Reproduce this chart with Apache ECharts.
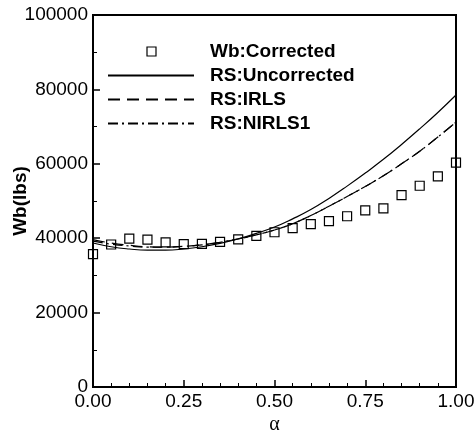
<!DOCTYPE html>
<html>
<head>
<meta charset="utf-8">
<script src="https://cdn.jsdelivr.net/npm/echarts@6/dist/echarts.min.js"></script>
<style>html,body{margin:0;padding:0;background:#fff;}#c{width:476px;height:436px;}</style>
</head>
<body>
<div id="c"></div>
<script>
var alpha = [0.00,0.05,0.10,0.15,0.20,0.25,0.30,0.35,0.40,0.45,0.50,0.55,0.60,0.65,0.70,0.75,0.80,0.85,0.90,0.95,1.00];
var wbCorrected = [35700,38300,39900,39600,38900,38400,38500,39000,39700,40600,41600,42700,43800,44600,45900,47500,48000,51600,54100,56600,60300];
var rsUncorrected = [38700,37700,37100,36800,36800,37100,37700,38600,39800,41300,43000,45200,47700,50700,54000,57500,61200,65200,69400,73800,78500];
var rsIRLS = [39600,38700,38100,37700,37600,37800,38200,38900,39800,40900,42200,43900,46100,48600,51200,53900,56800,60000,63400,67200,71200];
var rsNIRLS1 = [39200,38400,37900,37600,37600,37800,38200,38900,39800,40900,42200,43900,46100,48600,51200,53900,56800,60000,63400,67200,71200];
var xTicks = [0, 0.25, 0.5, 0.75, 1];
var yTicks = [0, 20000, 40000, 60000, 80000, 100000];

function pairs(ys){ return alpha.map(function(a,i){ return [a, ys[i]]; }); }

var chart = echarts.init(document.getElementById('c'), null, {renderer:'canvas'});
var labelFont = {color:'#000', fontFamily:'Liberation Sans, Arial, sans-serif', fontSize:19};
chart.setOption({
  animation:false,
  backgroundColor:'#fff',
  grid:{left:93, right:20, top:15, bottom:49, show:true, borderColor:'#000', borderWidth:2, backgroundColor:'transparent', outerBoundsMode:'none', containLabel:false},
  legend:{
    orient:'vertical', left:107, top:42, padding:0, itemGap:5,
    itemWidth:86, itemHeight:14,
    textStyle:{color:'#000', fontFamily:'Liberation Sans, Arial, sans-serif', fontWeight:'bold', fontSize:19, padding:[0,0,0,11]},
    data:[
      {name:'Wb:Corrected', icon:'path://M0,0M39,2.5h9v9h-9zM86,14', itemStyle:{color:'rgba(255,255,255,0)', borderColor:'#000', borderWidth:1.2, opacity:1}},
      {name:'RS:Uncorrected', itemStyle:{opacity:0}},
      {name:'RS:IRLS', itemStyle:{opacity:0}},
      {name:'RS:NIRLS1', itemStyle:{opacity:0}}
    ]
  },
  xAxis:{
    type:'value', min:0, max:1, interval:0.25,
    name:'α', nameLocation:'middle', nameGap:28, nameMoveOverlap:false,
    nameTextStyle:{color:'#000', fontFamily:'Liberation Serif, Times New Roman, serif', fontSize:20},
    axisLine:{show:true, onZero:false, lineStyle:{color:'#000', width:2}},
    axisTick:{show:true, inside:true, length:7, lineStyle:{color:'#000', width:1.5}},
    minorTick:{show:true, splitNumber:5, length:4, lineStyle:{color:'#000', width:1}},
    axisLabel:Object.assign({margin:5, formatter:function(v){return v.toFixed(2);}}, labelFont),
    splitLine:{show:false}
  },
  yAxis:{
    type:'value', min:0, max:100000, interval:20000,
    name:'Wb(lbs)', nameLocation:'middle', nameGap:63, nameRotate:90, nameMoveOverlap:false,
    nameTextStyle:{color:'#000', fontFamily:'Liberation Sans, Arial, sans-serif', fontWeight:'bold', fontSize:19},
    axisLine:{show:true, onZero:false, lineStyle:{color:'#000', width:2}},
    axisTick:{show:true, inside:true, length:7, lineStyle:{color:'#000', width:1.5}},
    minorTick:{show:true, splitNumber:2, length:4, lineStyle:{color:'#000', width:1}},
    axisLabel:Object.assign({margin:5, formatter:function(v){return String(v);}}, labelFont),
    splitLine:{show:false}
  },
  series:[
    {name:'RS:Uncorrected', type:'line', data:pairs(rsUncorrected), smooth:true, symbol:'none',
     lineStyle:{color:'#000', width:1.2, type:'solid'}, itemStyle:{color:'#000'}},
    {name:'RS:IRLS', type:'line', data:pairs(rsIRLS), smooth:true, symbol:'none',
     lineStyle:{color:'#000', width:1.2, type:[12,7]}, itemStyle:{color:'#000'}},
    {name:'RS:NIRLS1', type:'line', data:pairs(rsNIRLS1), smooth:true, symbol:'none',
     lineStyle:{color:'#000', width:1.2, type:[10,4,2,4]}, itemStyle:{color:'#000'}},
    {name:'Wb:Corrected', type:'scatter', data:pairs(wbCorrected), symbol:'rect', symbolSize:9, clip:false,
     itemStyle:{color:'rgba(255,255,255,0)', borderColor:'#000', borderWidth:1.2, opacity:1}, z:5}
  ]
});
</script>
</body>
</html>
